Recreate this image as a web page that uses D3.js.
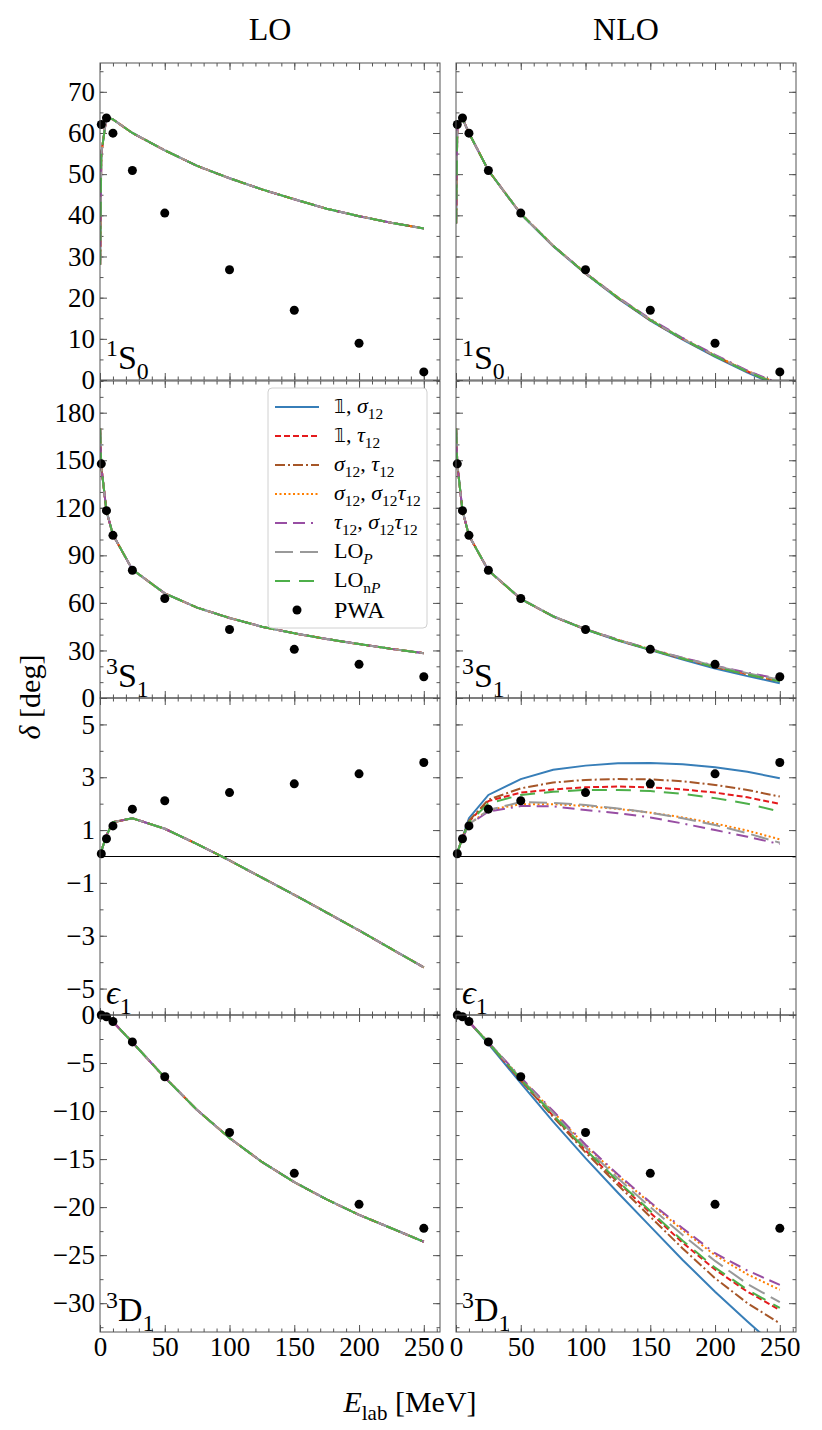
<!DOCTYPE html>
<html>
<head>
<meta charset="utf-8">
<script src="https://cdn.jsdelivr.net/npm/d3@7"></script>
<style>
  body { margin: 0; background: #fff; }
  text { font-family: "Liberation Serif", "DejaVu Serif", serif; fill: #000; }
</style>
</head>
<body>
<div id="chart"></div>
<script>
// lab energies of the computed curves (MeV)
var energies = [0.1, 1, 5, 10, 25, 50, 75, 100, 125, 150, 175, 200, 225, 250];

// PWA points
var pwaEnergies = [1, 5, 10, 25, 50, 100, 150, 200, 250];
var pwa1S0 = [62.07, 63.63, 59.96, 50.9, 40.54, 26.78, 16.94, 8.94, 1.96];
var pwa3S1 = [147.75, 118.18, 102.61, 80.63, 62.77, 43.23, 30.72, 21.22, 13.39];
var pwaE1 = [0.105, 0.672, 1.159, 1.793, 2.109, 2.42, 2.75, 3.13, 3.56];
var pwa3D1 = [-0.005, -0.183, -0.677, -2.799, -6.433, -12.23, -16.48, -19.71, -22.21];

// LO: the seven operator choices give the same curve
var lo1S0 = [28, 55, 63.8, 63.3, 60, 55.8, 52, 49, 46.3, 43.9, 41.6, 39.8, 38.2, 36.8];
var lo3S1 = [170, 146, 118, 103, 81, 66, 57, 50.5, 45, 40.8, 37.2, 34, 31, 28.3];
var loE1 = [0.02, 0.2, 0.8, 1.3, 1.45, 1.05, 0.47, -0.15, -0.8, -1.45, -2.12, -2.8, -3.5, -4.2];
var lo3D1 = [0, -0.01, -0.2, -0.7, -2.85, -6.5, -9.9, -12.8, -15.3, -17.4, -19.2, -20.8, -22.2, -23.6];

// NLO, one row per series (same order as seriesNames)
var nlo1S0 = [
  [38, 61.5, 63.5, 60, 50.9, 40.3, 32.5, 25.8, 19.8, 14.4, 9.8, 5.6, 1.8, -1.6],
  [38, 61.5, 63.5, 60, 50.9, 40.4, 32.6, 25.9, 20, 14.6, 10, 5.9, 2.1, -1.2],
  [38, 61.5, 63.5, 60, 50.9, 40.4, 32.6, 25.9, 19.9, 14.5, 9.9, 5.8, 2, -1.4],
  [38, 61.5, 63.5, 60, 50.9, 40.4, 32.6, 26, 20.1, 14.7, 10.1, 6, 2.2, -1],
  [38, 61.5, 63.5, 60, 50.9, 40.4, 32.6, 26, 20.1, 14.8, 10.2, 6.1, 2.3, -0.9],
  [38, 61.5, 63.5, 60, 50.9, 40.4, 32.6, 25.9, 20, 14.6, 10, 5.9, 2.1, -1.2],
  [38, 61.5, 63.5, 60, 50.9, 40.4, 32.6, 25.9, 20, 14.6, 10, 5.8, 2, -1.3]
];
var nlo3S1 = [
  [170, 147.5, 118.3, 102.5, 80.5, 62.5, 51.4, 43.2, 36.3, 30.2, 24.2, 18.6, 13.8, 9.3],
  [170, 147.5, 118.3, 102.5, 80.5, 62.5, 51.5, 43.4, 36.6, 30.6, 25, 19.8, 15.2, 11],
  [170, 147.5, 118.3, 102.5, 80.5, 62.5, 51.5, 43.3, 36.5, 30.5, 24.8, 19.5, 14.8, 10.5],
  [170, 147.5, 118.3, 102.5, 80.5, 62.5, 51.5, 43.4, 36.6, 30.7, 25.1, 19.9, 15.3, 11],
  [170, 147.5, 118.3, 102.5, 80.5, 62.6, 51.6, 43.5, 36.8, 30.9, 25.4, 20.4, 16, 12],
  [170, 147.5, 118.3, 102.5, 80.5, 62.6, 51.6, 43.5, 36.7, 30.8, 25.3, 20.2, 15.7, 11.5],
  [170, 147.5, 118.3, 102.5, 80.5, 62.5, 51.5, 43.3, 36.5, 30.5, 24.8, 19.5, 14.8, 10.5]
];
var nloE1 = [
  [0.02, 0.15, 0.72, 1.45, 2.33, 2.93, 3.28, 3.44, 3.53, 3.54, 3.49, 3.38, 3.21, 2.96],
  [0.02, 0.15, 0.71, 1.32, 2.1, 2.42, 2.54, 2.62, 2.65, 2.62, 2.54, 2.42, 2.24, 1.99],
  [0.02, 0.15, 0.71, 1.35, 2.15, 2.58, 2.8, 2.9, 2.93, 2.92, 2.85, 2.71, 2.52, 2.27],
  [0.02, 0.15, 0.69, 1.22, 1.76, 1.98, 1.98, 1.91, 1.8, 1.66, 1.48, 1.25, 0.98, 0.65],
  [0.02, 0.15, 0.68, 1.2, 1.7, 1.91, 1.9, 1.76, 1.64, 1.48, 1.25, 1, 0.75, 0.47],
  [0.02, 0.15, 0.69, 1.22, 1.76, 2.06, 2.03, 1.95, 1.82, 1.66, 1.45, 1.19, 0.88, 0.52],
  [0.02, 0.15, 0.7, 1.3, 2.01, 2.33, 2.45, 2.52, 2.52, 2.48, 2.37, 2.21, 2, 1.7]
];
var nlo3D1 = [
  [0, -0.01, -0.2, -0.72, -3, -7.1, -11.1, -14.9, -18.5, -22, -25.5, -28.8, -31.9, -34.9],
  [0, -0.01, -0.19, -0.7, -2.9, -6.8, -10.5, -14.1, -17.4, -20.6, -23.7, -26.5, -28.8, -30.7],
  [0, -0.01, -0.19, -0.7, -2.9, -6.8, -10.6, -14.3, -17.7, -21, -24.3, -27.4, -30, -32.1],
  [0, -0.01, -0.19, -0.69, -2.85, -6.55, -10.1, -13.6, -16.7, -19.6, -22.4, -25, -27, -28.6],
  [0, -0.01, -0.19, -0.69, -2.85, -6.5, -10, -13.5, -16.6, -19.5, -22.2, -24.8, -26.6, -28.1],
  [0, -0.01, -0.19, -0.7, -2.85, -6.6, -10.2, -13.8, -17, -20, -22.9, -25.6, -28, -29.9],
  [0, -0.01, -0.19, -0.7, -2.9, -6.7, -10.4, -14, -17.3, -20.4, -23.5, -26.3, -28.6, -30.5]
];

// series legend + styles
var seriesNames = [
  [{ t: "\u{1D7D9}", ds: true }, { t: ", " }, { t: "σ", it: true }, { t: "12", sub: true }],
  [{ t: "\u{1D7D9}", ds: true }, { t: ", " }, { t: "τ", it: true }, { t: "12", sub: true }],
  [{ t: "σ", it: true }, { t: "12", sub: true }, { t: ", " }, { t: "τ", it: true }, { t: "12", sub: true }],
  [{ t: "σ", it: true }, { t: "12", sub: true }, { t: ", " }, { t: "σ", it: true }, { t: "12", sub: true }, { t: "τ", it: true }, { t: "12", sub: true }],
  [{ t: "τ", it: true }, { t: "12", sub: true }, { t: ", " }, { t: "σ", it: true }, { t: "12", sub: true }, { t: "τ", it: true }, { t: "12", sub: true }],
  [{ t: "LO" }, { t: "P", sub: true, it: true }],
  [{ t: "LO" }, { t: "n", sub: true }, { t: "P", sub: true, it: true }]
];
var seriesColors = ["#377eb8", "#e41a1c", "#a65628", "#ff7f00", "#984ea3", "#999999", "#4daf4a"];
var seriesDash = [null, "6,3", "10,3,2,3", "2,2.5", "12,6,12,6,2,6", "18,7", "15,9"];

var columnTitles = ["LO", "NLO"];
var channelLabels = [
  [{ t: "1", sup: true }, { t: "S" }, { t: "0", sub: true }],
  [{ t: "3", sup: true }, { t: "S" }, { t: "1", sub: true }],
  [{ t: "ϵ", it: true }, { t: "1", sub: true }],
  [{ t: "3", sup: true }, { t: "D" }, { t: "1", sub: true }]
];

// axis setup per row
var rowDomains = [[0, 77], [0, 200], [-6, 6], [-33, 0]];
var rowMajor = [
  [0, 10, 20, 30, 40, 50, 60, 70],
  [0, 30, 60, 90, 120, 150, 180],
  [-5, -3, -1, 1, 3, 5],
  [-30, -25, -20, -15, -10, -5, 0]
];
var rowMinor = [
  d3.range(0, 77, 5),
  d3.range(0, 201, 10),
  d3.range(-6, 7, 1),
  d3.range(-32.5, 0.1, 2.5)
];
var xMajor = [0, 50, 100, 150, 200, 250];
var xMinor = d3.range(0, 261, 10);

function drawFigure() {
  var width = 822,
    height = 1430,
    colX = [100, 456],
    rowY = [63, 381, 698, 1015],
    panelW = 340,
    panelH = 317,
    tickFont = 27;

  var svg = d3
    .select("#chart")
    .append("svg")
    .attr("width", width)
    .attr("height", height);

  var x = d3.scaleLinear().domain([0, 262.5]).range([0, panelW]);

  var loByRow = [lo1S0, lo3S1, loE1, lo3D1];
  var nloByRow = [nlo1S0, nlo3S1, nloE1, nlo3D1];
  var pwaByRow = [pwa1S0, pwa3S1, pwaE1, pwa3D1];

  // builds text with sub/superscripts from parts
  function rich(textSel, parts, size) {
    var shift = 0;
    parts.forEach(function (p) {
      var target = p.sub ? size * 0.28 : p.sup ? -size * 0.38 : 0;
      var ts = textSel.append("tspan").attr("dy", target - shift).text(p.t);
      shift = target;
      if (p.sub || p.sup) ts.attr("font-size", size * 0.7);
      if (p.it) ts.attr("font-style", "italic");
      if (p.ds) ts.attr("font-family", "DejaVu Sans, sans-serif").attr("font-size", size * 0.85);
    });
  }

  var defs = svg.append("defs");

  rowDomains.forEach(function (dom, r) {
    var y = d3.scaleLinear().domain(dom).range([panelH, 0]);

    [0, 1].forEach(function (c) {
      var g = svg
        .append("g")
        .attr("transform", "translate(" + colX[c] + "," + rowY[r] + ")");

      var clipId = "clip-" + r + "-" + c;
      defs
        .append("clipPath")
        .attr("id", clipId)
        .append("rect")
        .attr("width", panelW)
        .attr("height", panelH);

      // ticks on all four sides, pointing inward
      var axes = [
        { ax: d3.axisLeft(y), major: rowMajor[r], minor: rowMinor[r], tr: null, label: c === 0 },
        { ax: d3.axisRight(y), major: rowMajor[r], minor: rowMinor[r], tr: "translate(" + panelW + ",0)", label: false },
        { ax: d3.axisBottom(x), major: xMajor, minor: xMinor, tr: "translate(0," + panelH + ")", label: r === 3 },
        { ax: d3.axisTop(x), major: xMajor, minor: xMinor, tr: null, label: false }
      ];
      axes.forEach(function (a) {
        var gMinor = g.append("g").attr("class", "minor");
        var gMajor = g.append("g").attr("class", "major");
        if (a.tr) {
          gMinor.attr("transform", a.tr);
          gMajor.attr("transform", a.tr);
        }
        gMinor.call(a.ax.tickValues(a.minor).tickSize(-3.5).tickFormat(""));
        gMajor.call(
          a.ax
            .tickValues(a.major)
            .tickSize(-7)
            .tickPadding(5)
            .tickFormat(a.label ? d3.format("") : "")
        );
        g.selectAll(".domain").remove();
        g.selectAll(".tick line").attr("stroke", "#555").attr("stroke-width", 1);
        gMajor
          .selectAll(".tick text")
          .attr("font-size", tickFont)
          .attr("font-family", "Liberation Serif, serif");
      });

      // zero line for the mixing angle
      if (r === 2) {
        g.append("line")
          .attr("x1", 0)
          .attr("x2", panelW)
          .attr("y1", y(0))
          .attr("y2", y(0))
          .attr("stroke", "#000")
          .attr("stroke-width", 1);
      }

      var line = d3
        .line()
        .x(function (d, i) { return x(energies[i]); })
        .y(function (d) { return y(d); });

      var curves = g.append("g").attr("clip-path", "url(#" + clipId + ")");
      seriesColors.forEach(function (col, s) {
        var vals = c === 0 ? loByRow[r] : nloByRow[r][s];
        curves
          .append("path")
          .datum(vals)
          .attr("d", line)
          .attr("fill", "none")
          .attr("stroke", col)
          .attr("stroke-width", 2)
          .attr("stroke-dasharray", seriesDash[s]);
      });

      // PWA points
      g.append("g")
        .selectAll("circle")
        .data(pwaByRow[r])
        .join("circle")
        .attr("cx", function (d, i) { return x(pwaEnergies[i]); })
        .attr("cy", function (d) { return y(d); })
        .attr("r", 4.5)
        .attr("fill", "#000");

      // frame
      g.append("rect")
        .attr("width", panelW)
        .attr("height", panelH)
        .attr("fill", "none")
        .attr("stroke", "#555")
        .attr("stroke-width", 1);

      // channel label
      var lab = g
        .append("text")
        .attr("x", 6)
        .attr("y", panelH - 11)
        .attr("font-size", 34);
      rich(lab, channelLabels[r], 34);
    });
  });

  // column titles
  columnTitles.forEach(function (t, c) {
    svg
      .append("text")
      .attr("x", colX[c] + panelW / 2)
      .attr("y", 40)
      .attr("text-anchor", "middle")
      .attr("font-size", 32)
      .text(t);
  });

  // legend in the LO 3S1 panel
  var leg = svg.append("g").attr("transform", "translate(268,388)");
  leg
    .append("rect")
    .attr("width", 159)
    .attr("height", 240)
    .attr("rx", 4)
    .attr("fill", "#fff")
    .attr("fill-opacity", 0.8)
    .attr("stroke", "#d0d0d0");
  seriesColors.forEach(function (col, s) {
    var yy = 19 + s * 29;
    leg
      .append("line")
      .attr("x1", 7)
      .attr("x2", 51)
      .attr("y1", yy)
      .attr("y2", yy)
      .attr("stroke", col)
      .attr("stroke-width", 2)
      .attr("stroke-dasharray", seriesDash[s]);
    var t = leg
      .append("text")
      .attr("x", 66)
      .attr("y", yy + 6)
      .attr("font-size", 22);
    rich(t, seriesNames[s], 22);
  });
  leg
    .append("circle")
    .attr("cx", 29)
    .attr("cy", 19 + 7 * 29)
    .attr("r", 4.5)
    .attr("fill", "#000");
  leg
    .append("text")
    .attr("x", 66)
    .attr("y", 19 + 7 * 29 + 8)
    .attr("font-size", 24)
    .text("PWA");

  // axis titles
  var yt = svg
    .append("text")
    .attr("transform", "translate(40,697) rotate(-90)")
    .attr("text-anchor", "middle")
    .attr("font-size", 30);
  rich(yt, [{ t: "δ", it: true }, { t: " [deg]" }], 30);

  var xt = svg
    .append("text")
    .attr("x", 410)
    .attr("y", 1412)
    .attr("text-anchor", "middle")
    .attr("font-size", 30);
  rich(xt, [{ t: "E", it: true }, { t: "lab", sub: true }, { t: " [MeV]" }], 30);
}

drawFigure();
</script>
</body>
</html>
